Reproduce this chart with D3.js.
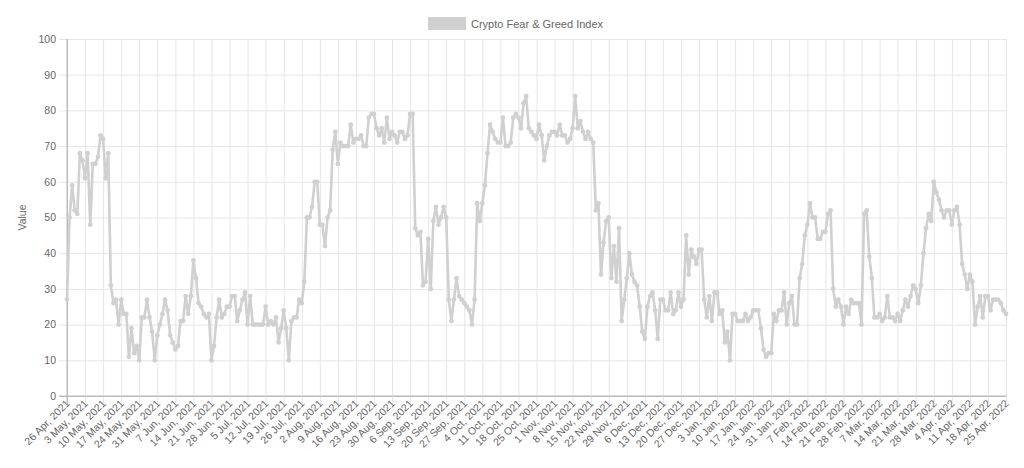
<!DOCTYPE html>
<meta charset="utf-8">
<style>
    body { margin: 0; background: #fff; }
    svg text { font-family: "Liberation Sans", Arial, sans-serif; fill: #666; }
</style>
<svg width="1024" height="468"></svg>
<script src="https://cdn.jsdelivr.net/npm/d3@7/dist/d3.min.js"></script>
<script>
    // daily index values, 26 Apr 2021 .. 25 Apr 2022
    var values = [
        27, 50, 59, 52, 51, 68, 66, 61, 68, 48, 65, 65, 67, 73, 72, 61, 68, 31, 26, 27, 20,
        27, 23, 23, 11, 19, 12, 14, 10, 22, 22, 27, 22, 18, 10, 17, 20, 23, 27, 24, 17, 15,
        13, 14, 21, 21, 28, 23, 28, 38, 33, 26, 25, 23, 22, 23, 10, 14, 22, 27, 22, 23, 25,
        25, 28, 28, 21, 24, 27, 29, 20, 28, 20, 20, 20, 20, 20, 25, 20, 21, 20, 22, 15, 19,
        24, 19, 10, 21, 22, 22, 27, 26, 32, 50, 50, 53, 60, 60, 48, 48, 42, 50, 52, 69, 74,
        65, 71, 70, 70, 70, 76, 71, 72, 72, 73, 70, 70, 78, 79, 79, 75, 73, 75, 71, 78, 72,
        74, 73, 71, 74, 74, 72, 73, 79, 79, 47, 45, 46, 31, 32, 44, 30, 49, 53, 48, 50, 53,
        50, 27, 21, 27, 33, 28, 27, 26, 25, 24, 20, 27, 54, 49, 54, 59, 68, 76, 74, 72, 71,
        71, 78, 70, 70, 71, 78, 79, 78, 75, 82, 84, 75, 74, 73, 72, 76, 73, 66, 70, 73, 74,
        74, 73, 76, 73, 73, 71, 72, 75, 84, 75, 77, 74, 72, 74, 72, 71, 52, 54, 34, 43, 49,
        50, 33, 42, 32, 47, 21, 27, 33, 40, 34, 32, 31, 25, 18, 16, 25, 28, 29, 24, 16, 27,
        27, 24, 24, 29, 23, 24, 29, 25, 27, 45, 34, 41, 39, 37, 41, 41, 27, 22, 28, 21, 29,
        29, 23, 24, 15, 18, 10, 23, 23, 21, 21, 21, 23, 21, 22, 24, 24, 24, 19, 13, 11, 12,
        12, 23, 21, 24, 24, 29, 20, 26, 28, 20, 20, 33, 37, 45, 48, 54, 50, 50, 44, 44, 46,
        46, 51, 52, 30, 25, 27, 25, 20, 25, 23, 27, 26, 26, 26, 20, 51, 52, 39, 33, 22, 22,
        23, 21, 22, 28, 22, 22, 21, 23, 21, 24, 27, 25, 28, 31, 30, 26, 31, 40, 47, 51, 49,
        60, 57, 55, 52, 50, 52, 52, 48, 52, 53, 48, 37, 34, 30, 34, 32, 20, 25, 28, 22, 28,
        28, 24, 27, 27, 27, 26, 24, 23
    ];

    // one label every 7th day
    var weekLabels = [
        "26 Apr, 2021", "3 May, 2021", "10 May, 2021", "17 May, 2021", "24 May, 2021",
        "31 May, 2021", "7 Jun, 2021", "14 Jun, 2021", "21 Jun, 2021", "28 Jun, 2021",
        "5 Jul, 2021", "12 Jul, 2021", "19 Jul, 2021", "26 Jul, 2021", "2 Aug, 2021",
        "9 Aug, 2021", "16 Aug, 2021", "23 Aug, 2021", "30 Aug, 2021", "6 Sep, 2021",
        "13 Sep, 2021", "20 Sep, 2021", "27 Sep, 2021", "4 Oct, 2021", "11 Oct, 2021",
        "18 Oct, 2021", "25 Oct, 2021", "1 Nov, 2021", "8 Nov, 2021", "15 Nov, 2021",
        "22 Nov, 2021", "29 Nov, 2021", "6 Dec, 2021", "13 Dec, 2021", "20 Dec, 2021",
        "27 Dec, 2021", "3 Jan, 2022", "10 Jan, 2022", "17 Jan, 2022", "24 Jan, 2022",
        "31 Jan, 2022", "7 Feb, 2022", "14 Feb, 2022", "21 Feb, 2022", "28 Feb, 2022",
        "7 Mar, 2022", "14 Mar, 2022", "21 Mar, 2022", "28 Mar, 2022", "4 Apr, 2022",
        "11 Apr, 2022", "18 Apr, 2022", "25 Apr, 2022"
    ];

    var yTicks = [0, 10, 20, 30, 40, 50, 60, 70, 80, 90, 100];
    var seriesName = "Crypto Fear & Greed Index";

    var svg = d3.select("svg");
    var plotL = 67, plotR = 1006, plotT = 39, plotB = 396;
    var lineColor = "#d0d0d0";

    var x = d3.scaleLinear().domain([0, values.length - 1]).range([plotL, plotR]);
    var y = d3.scaleLinear().domain([0, 100]).range([plotB, plotT]);

    // horizontal grid + y ticks
    var yAxis = d3.axisLeft(y).tickValues(yTicks).tickSize(plotR - plotL + 8).tickPadding(3);
    svg.append("g")
        .attr("transform", "translate(" + plotR + ",0)")
        .call(yAxis)
        .call(function (g) {
            g.select(".domain").remove();
            g.selectAll(".tick line").attr("stroke", function (d) { return d == 0 ? "#bbb" : "#e6e6e6"; });
            g.selectAll(".tick text").attr("font-size", "10.5px").attr("fill", "#666");
        });

    // vertical grid + x ticks
    var xTickIdx = weekLabels.map(function (d, i) { return i * 7; });
    var xAxis = d3.axisBottom(x).tickValues(xTickIdx)
        .tickSize(plotB - plotT + 8)
        .tickFormat(function (d) { return weekLabels[d / 7]; });
    svg.append("g")
        .attr("transform", "translate(0," + plotT + ")")
        .call(xAxis)
        .call(function (g) {
            g.select(".domain").remove();
            g.selectAll(".tick line").attr("stroke", function (d) { return d == 0 ? "#bbb" : "#e6e6e6"; });
            g.selectAll(".tick text")
                .attr("font-size", "10.5px")
                .attr("fill", "#666")
                .attr("text-anchor", "end")
                .attr("dy", null)
                .attr("y", 0)
                .attr("transform", "translate(3," + (plotB - plotT + 8) + ") rotate(-45)");
        });

    svg.append("line")
        .attr("x1", plotL).attr("x2", plotL).attr("y1", plotT).attr("y2", plotB + 8)
        .attr("stroke", "#bbb");
    svg.append("line")
        .attr("x1", plotL - 8).attr("x2", plotR).attr("y1", plotB).attr("y2", plotB)
        .attr("stroke", "#bbb");

    // y title
    svg.append("text")
        .attr("transform", "translate(26," + ((plotT + plotB) / 2) + ") rotate(-90)")
        .attr("text-anchor", "middle")
        .attr("font-size", "10.5px")
        .text("Value");

    // series
    var line = d3.line()
        .x(function (d, i) { return x(i); })
        .y(function (d) { return y(d); });

    svg.append("path")
        .datum(values)
        .attr("fill", "none")
        .attr("stroke", lineColor)
        .attr("stroke-width", 2.6)
        .attr("stroke-linejoin", "round")
        .attr("d", line);

    svg.append("g").selectAll("circle")
        .data(values)
        .enter().append("circle")
        .attr("cx", function (d, i) { return x(i); })
        .attr("cy", function (d) { return y(d); })
        .attr("r", 2.4)
        .attr("fill", lineColor);

    // legend
    var legend = svg.append("g").attr("transform", "translate(428,17)");
    legend.append("rect")
        .attr("width", 38).attr("height", 13)
        .attr("fill", lineColor);
    legend.append("text")
        .attr("x", 43).attr("y", 10.5)
        .attr("font-size", "11px")
        .text(seriesName);
</script>
